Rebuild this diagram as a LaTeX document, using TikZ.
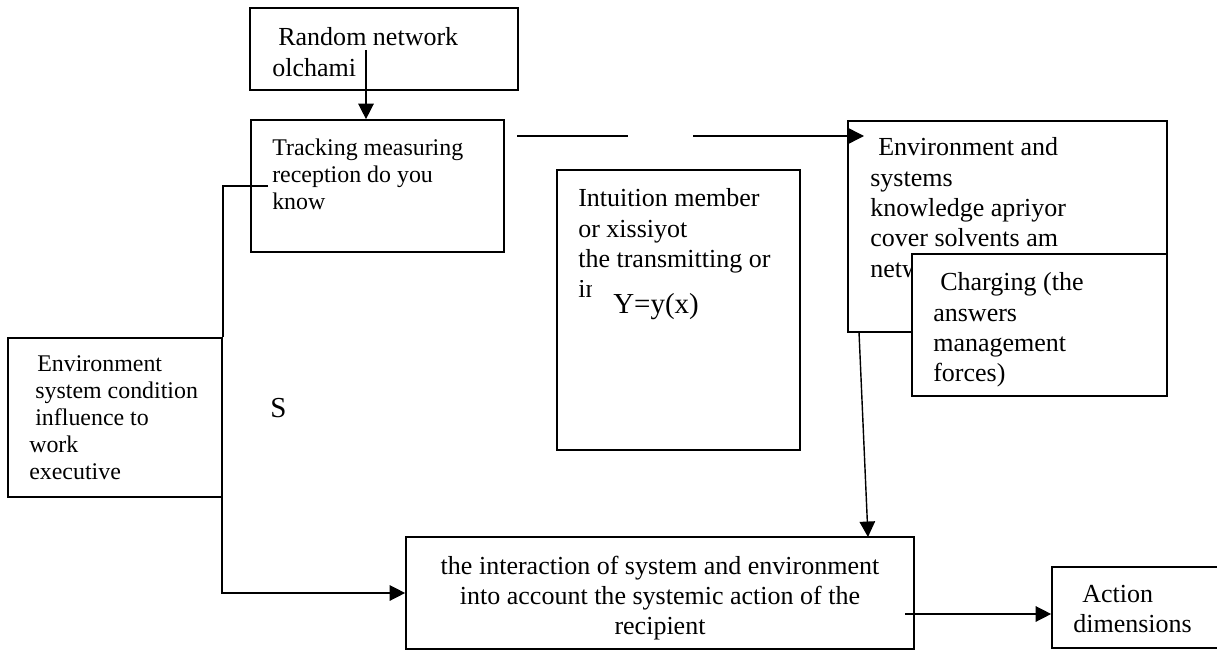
\documentclass[tikz,border=0pt]{standalone}
\usepackage{fontspec}
\setmainfont{Liberation Serif}
\usepackage{tikz}
\usetikzlibrary{fit}
\usetikzlibrary{positioning}
\usetikzlibrary{arrows.meta}
\tikzset{%
  boxplain/.style={rectangle,draw=black,fill=white,line width=1.2pt,inner sep=0pt}
}
\tikzset{%
  boxtext/.style={anchor=north west,align=left,inner sep=0pt}
}
\tikzset{%
  plainline/.style={line width=1pt},
  arrowline/.style={line width=1pt,-{Triangle[length=11pt,width=11pt]}}
}
\newcommand\fontbox{\fontsize{18.5}{21.6}\selectfont}
\newcommand\fontsmall{\fontsize{17}{19.2}\selectfont}
\newcommand\fontbig{\fontsize{20.6}{24}\selectfont}

\begin{document}
\begin{tikzpicture}[x=0.025cm,y=-0.025cm]
            \clip (0,0) rectangle (1217,650);
            % boxes of the upper row
            \node[boxplain,fit={(250,8) (518,90)}](random){};
            \node[boxtext,font=\fontbox](randomtxt) at (272,27.5){\hspace*{4.3pt}Random network\\olchami};

            \node[boxplain,fit={(251,120) (504,252)}](track){};
            \node[boxtext,font=\fontsmall](tracktxt) at (272,138.5){Tracking measuring\\reception do you\\know};

            \node[boxplain,fit={(557,170) (800,450)}](intuit){};
            \node[boxtext,font=\fontbox](intuittxt) at (578,188.5){Intuition member\\or xissiyot\\the transmitting or};
            \begin{scope}
                \clip (575,280) rectangle (591,305);
                \node[anchor=base west,inner sep=0pt,font=\fontbox](intuitcut) at (578,297){in};
            \end{scope}
            \node[anchor=base west,inner sep=0pt,font=\fontbig](yfunc) at (613,313){Y=y(x)};

            \node[boxplain,fit={(848,121) (1167,332)}](envbox){};
            \node[boxtext,font=\fontbox](envtxt) at (870,137.5){\hspace*{5.7pt}Environment and\\systems\\knowledge apriyor\\cover solvents am\\netw};
            \node[boxplain,fit={(912,254) (1167,396)}](charge){};
            \node[boxtext,font=\fontbox](chargetxt) at (933,272.5){\hspace*{5pt}Charging (the\\answers\\management\\forces)};

            % left side
            \node[boxplain,fit={(8,338) (222,497)}](envleft){};
            \node[boxtext,font=\fontsmall](envlefttxt) at (29,355.5){\hspace*{5.7pt}Environment\\\hspace*{4.3pt}system condition\\\hspace*{4.3pt}influence to\\work\\executive};
            \node[anchor=base west,inner sep=0pt,font=\fontbig](slabel) at (270,417){S};

            % lower row
            \node[boxplain,fit={(406,537) (914,649)}](interact){};
            \node[anchor=north,align=center,inner sep=0pt,font=\fontbox](interacttxt) at (660,555.5){the interaction of system and environment\\into account the systemic action of the\\recipient};

            \node[boxplain,fit={(1052,567) (1235,648)}](action){};
            \node[boxtext,font=\fontbox](actiontxt) at (1073,584.5){\hspace*{6.4pt}Action\\dimensions};

            % connectors
            \coordinate (rndstart) at (366,50);
            \draw[arrowline] (rndstart) -- (rndstart |- track.north);

            \coordinate (trkout) at (268,186);
            \draw[plainline] (trkout) -- (trkout -| envleft.east) -- (envleft.north east);

            \coordinate (topa) at (517,136);
            \coordinate (gapa) at (628,136);
            \coordinate (gapb) at (693,136);
            \coordinate (envin) at (864,136);
            \draw[plainline] (topa) -- (gapa);
            \draw[arrowline] (gapb) -- (envin);

            \coordinate (lftout) at (222,483);
            \draw[arrowline] (lftout) |- (interact.west);

            \coordinate (envout) at (859,332);
            \coordinate (intin) at (868,537);
            \draw[arrowline] (envout) -- (intin);

            \coordinate (intout) at (905,614);
            \draw[arrowline] (intout) -- (intout -| action.west);
        \end{tikzpicture}
\end{document}
